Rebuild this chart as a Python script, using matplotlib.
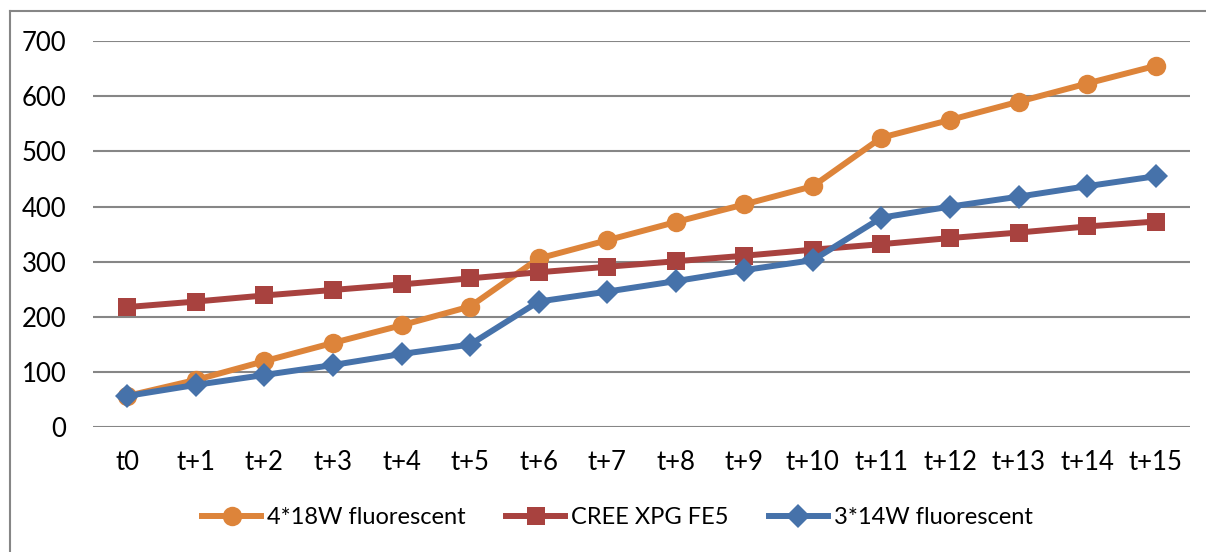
import matplotlib.pyplot as plt
from matplotlib.lines import Line2D

# ── Data ───────────────────────────────────────────────────────────────────────

steps = ["t0", "t+1", "t+2", "t+3", "t+4", "t+5", "t+6", "t+7",
         "t+8", "t+9", "t+10", "t+11", "t+12", "t+13", "t+14", "t+15"]

fluo_4x18 = [57, 86, 120, 153, 185, 219, 306, 339,
             372, 404, 437, 525, 557, 590, 623, 655]
cree_xpg  = [218, 228, 239, 249, 259, 270, 281, 291,
             301, 311, 322, 332, 343, 353, 364, 373]
fluo_3x14 = [57, 77, 95, 113, 133, 150, 228, 246,
             265, 285, 303, 380, 400, 418, 437, 455]

series = [
    ("4*18W fluorescent", fluo_4x18, "#DD843A", "o", 14),
    ("CREE XPG FE5",      cree_xpg,  "#A8423F", "s", 13),
    ("3*14W fluorescent", fluo_3x14, "#4672AA", "D", 12),
]

# ── Figure ─────────────────────────────────────────────────────────────────────

plt.rcParams["font.family"] = ["Lato", "DejaVu Sans"]

fig = plt.figure(figsize=(12.06, 5.52), dpi=100)
ax = fig.add_axes([93 / 1206, 1 - 427.4 / 552, (1190 - 93) / 1206, (427.4 - 41) / 552])

x = range(len(steps))
for label, values, color, marker, size in series:
    ax.plot(x, values, color=color, linewidth=4.3, marker=marker,
            markersize=size, markeredgewidth=0, label=label,
            solid_joinstyle="round", zorder=3)

ax.set_xlim(-0.5, len(steps) - 0.5)
ax.set_ylim(0, 700)
ax.set_yticks(range(0, 701, 100))
ax.set_xticks(list(x))
ax.set_xticklabels(steps)

ax.grid(axis="y", color="#868686", linewidth=1.5, zorder=0)
ax.set_axisbelow(True)
for side in ("top", "right", "left", "bottom"):
    ax.spines[side].set_visible(False)
ax.tick_params(axis="both", length=0, labelsize=18.5, colors="black")
ax.tick_params(axis="y", pad=19)
ax.tick_params(axis="x", pad=16)

# chart frame: only the top and left edges fall inside the image
fig.add_artist(Line2D([9.5 / 1206, 9.5 / 1206], [0, 1 - 11 / 552],
                      color="#868686", linewidth=1.5))
fig.add_artist(Line2D([9.5 / 1206, 1], [1 - 11 / 552, 1 - 11 / 552],
                      color="#868686", linewidth=1.5))

fig.legend(loc="center", bbox_to_anchor=(0.512, 1 - 518 / 552), ncol=3,
           frameon=False, fontsize=17, handlelength=2.5, handletextpad=0.25,
           columnspacing=1.7, markerscale=1.0)

fig.savefig("out.png", dpi=100)
